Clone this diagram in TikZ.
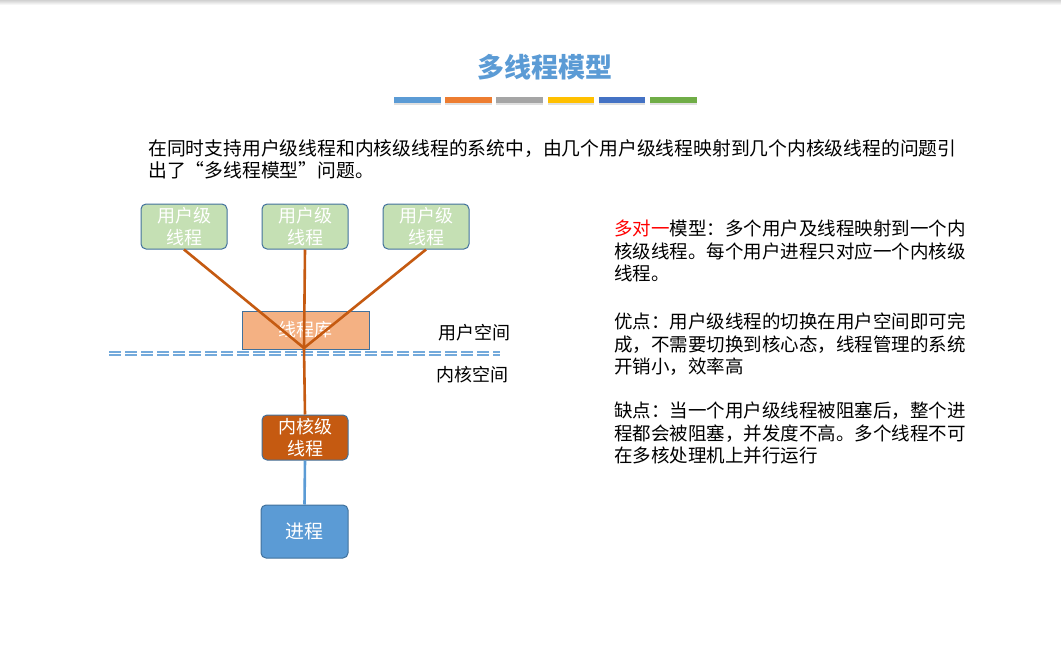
\documentclass[tikz,border=0pt]{standalone}
\usepackage{fontspec}
\setmainfont{Noto Sans CJK SC}
\usetikzlibrary{positioning}

\definecolor{titleblue}{HTML}{5B9BD5}
\definecolor{edgeblue}{HTML}{41719C}
\definecolor{usergreen}{HTML}{C5E0B4}
\definecolor{libpeach}{HTML}{F4B183}
\definecolor{kernrust}{HTML}{C55A11}
\definecolor{procblue}{HTML}{5B9BD5}
\definecolor{redtext}{HTML}{FF0000}

\begin{document}
\begin{tikzpicture}[x=1pt,y=-1pt,node distance=121pt,
  box/.style={draw=edgeblue,line width=1pt,rounded corners=5pt,minimum width=86pt,
    minimum height=45pt,align=center,text=white,inner sep=0pt,
    font=\fontsize{18}{22}\selectfont},
  userbox/.style={box,fill=usergreen},
  libbox/.style={box,rounded corners=0pt,fill=libpeach,minimum width=127pt,minimum height=38pt},
  kernbox/.style={box,fill=kernrust},
  procbox/.style={box,fill=procblue,minimum width=87pt,minimum height=53pt,
    font=\fontsize{19}{22}\selectfont},
  mapline/.style={draw=kernrust,line width=2.6pt},
  procline/.style={draw=procblue,line width=2.6pt},
  para/.style={anchor=north west,align=left,inner sep=0pt,
    font=\fontsize{18.5}{22.5}\selectfont}]

  \useasboundingbox (0,0) rectangle (1061,651);
  \shade[top color=black!18,bottom color=white] (0,0) rectangle (1061,5);

  % title and colour bar
  \node[text=titleblue,font=\fontsize{27}{32}\selectfont\bfseries] (title) at (545,67) {多线程模型};
  \foreach \c [count=\i from 0] in {5B9BD5,ED7D31,A5A5A5,FFC000,4472C4,70AD47} {
    \definecolor{barc}{HTML}{\c}
    \fill[black!12] (394+\i*51.2,98.5) rectangle ++(46.5,6);
    \fill[barc] (394+\i*51.2,97) rectangle ++(46.5,5.5);
  }

  \node[para,font=\fontsize{18.8}{22.5}\selectfont] (intro) at (148,139) {在同时支持用户级线程和内核级线程的系统中，由几个用户级线程映射到几个内核级线程的问题引\\出了“多线程模型”问题。};

  % user threads
  \node[userbox] (U1) at (184,226.5) {用户级\\线程};
  \node[userbox] (U2) [right of=U1] {用户级\\线程};
  \node[userbox] (U3) [right of=U2] {用户级\\线程};

  \node[libbox] (L) at (305.5,330) {线程库};
  \coordinate (H) at (304,348);

  \path[mapline]
        (U1.south) edge (H)
        (U2.south) edge (H)
        (U3.south) edge (H);

  % user / kernel border
  \draw[procblue!85,line width=1.3pt,double=white,double distance=1.6pt,
        dash pattern=on 12pt off 4pt] (109,353.5) -- (500,353.5);
  \node[font=\fontsize{18}{22}\selectfont] (us) at (474,333) {用户空间};
  \node[font=\fontsize{18}{22}\selectfont] (ks) at (472,375) {内核空间};

  \node[kernbox] (K) at (305,437.5) {内核级\\线程};
  \node[procbox] (P) at (304.5,531.5) {进程};

  \draw[mapline] (H) -- (K.north);
  \draw[procline] (K.south) -- (P.north);

  % description
  \node[para] (many) at (614,220) {\textcolor{redtext}{多对一}模型：多个用户及线程映射到一个内\\核级线程。每个用户进程只对应一个内核级\\线程。};
  \node[para] (pro) at (614,313) {优点：用户级线程的切换在用户空间即可完\\成，不需要切换到核心态，线程管理的系统\\开销小，效率高};
  \node[para] (con) at (614,402) {缺点：当一个用户级线程被阻塞后，整个进\\程都会被阻塞，并发度不高。多个线程不可\\在多核处理机上并行运行};
\end{tikzpicture}
\end{document}
